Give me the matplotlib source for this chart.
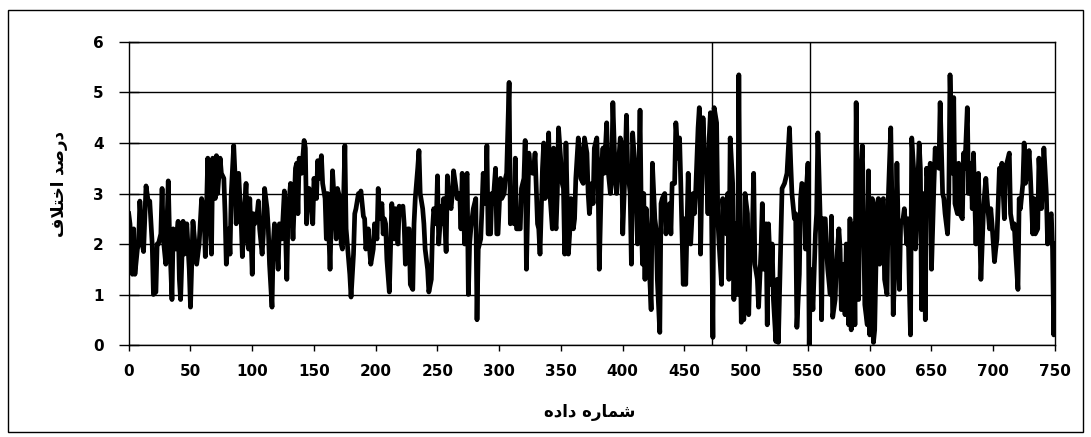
import matplotlib
matplotlib.use("Agg")
import matplotlib.pyplot as plt
from matplotlib.patches import Rectangle

# Difference percentage per data number, in blocks of the x range
x_000 = [0, 1, 3, 4, 5, 7, 8, 9, 11, 12, 14, 16, 17, 19, 20, 22, 23, 24, 26, 27, 28, 30, 32, 33, 35,
         36, 38, 40, 41, 42, 44, 45, 47, 49, 50, 52, 54, 55, 57, 59, 61, 62, 64]
y_000 = [2.6, 2.4, 1.4, 2.3, 1.4, 1.9, 2.0, 2.85, 2.0, 1.85, 3.15, 2.8, 2.85, 2.0, 1.0, 1.05, 2.0, 2.0, 2.2, 3.1,
         2.1, 1.6, 3.25, 2.2, 0.9, 2.3, 1.9, 2.45, 1.3, 0.9, 2.45, 1.8, 2.4, 1.5, 0.75, 2.45, 1.9, 1.6, 2.0, 2.9,
         2.6, 1.75, 3.7]

x_065 = [66, 67, 68, 70, 71, 72, 74, 75, 77, 78, 79, 81, 82, 83, 85, 86, 87, 89, 90, 91, 92, 94, 95, 96, 97,
         98, 100, 101, 102, 104, 105, 106, 108, 109, 110, 112, 113, 114, 116, 117, 118, 120, 121, 122, 124,
         126, 128, 129, 131, 132, 133, 135]
y_065 = [2.3, 1.8, 3.7, 2.9, 3.75, 3.0, 3.7, 3.4, 3.3, 2.6, 1.6, 2.3, 1.8, 3.0, 3.95, 3.4, 2.4, 3.4, 2.9, 2.5,
         1.75, 2.8, 3.2, 2.1, 1.9, 2.9, 1.4, 2.6, 2.4, 2.6, 2.85, 2.3, 1.8, 2.2, 3.1, 2.7, 2.3, 1.6, 0.75, 2.0,
         2.4, 1.9, 1.5, 2.4, 2.1, 3.05, 1.3, 2.6, 3.2, 2.7, 2.1, 3.5]

x_136 = [136, 137, 138, 140, 142, 143, 144, 146, 148, 149, 150, 152, 153, 154, 156, 157, 159, 160, 161, 163,
         164, 165, 167, 168, 169, 171, 172, 173, 175, 176, 177, 179, 180, 182, 183, 184, 186, 187, 188, 190,
         191, 192, 194, 195, 196, 198, 199, 201, 202, 203, 205]
y_136 = [3.6, 2.6, 3.7, 3.4, 4.05, 3.9, 2.4, 3.1, 2.9, 2.4, 3.3, 2.9, 3.65, 3.3, 3.75, 3.2, 2.9, 2.1, 3.0, 1.5,
         2.5, 3.45, 2.6, 2.1, 3.1, 2.9, 2.0, 1.9, 3.95, 2.3, 2.0, 1.4, 0.95, 1.8, 2.6, 2.7, 3.0, 2.95, 3.05, 2.55,
         2.5, 1.9, 2.3, 1.9, 1.6, 1.9, 2.4, 2.1, 3.1, 2.5, 2.8]

x_206 = [206, 207, 208, 209, 211, 212, 213, 215, 216, 218, 219, 220, 222, 223, 224, 226, 227, 228, 230, 231,
         232, 234, 235, 236, 238, 239, 240, 242, 243, 245, 246, 247, 249, 250, 251, 253, 254, 255, 257, 258,
         259, 261, 262, 263, 265, 266, 268, 269, 270, 272, 273]
y_206 = [2.2, 2.5, 2.4, 1.7, 1.05, 1.9, 2.8, 2.1, 2.7, 2.0, 2.75, 2.7, 2.75, 2.4, 1.6, 2.3, 2.3, 1.2, 1.1, 2.4,
         2.9, 3.5, 3.85, 3.0, 2.7, 2.4, 1.9, 1.5, 1.05, 1.3, 2.3, 2.7, 2.4, 3.35, 2.0, 2.75, 2.4, 2.9, 1.85, 3.35,
         2.9, 2.7, 3.0, 3.45, 3.1, 2.9, 3.0, 2.3, 3.4, 2.0, 3.3]

x_274 = [274, 275, 276, 277, 279, 281, 282, 283, 285, 286, 287, 289, 290, 291, 293, 294, 295, 297, 298, 299,
         301, 302, 304, 305, 306, 308, 309, 310, 312, 313, 314, 316, 317, 318, 320, 321, 322, 324, 325, 327,
         328, 329, 331, 332, 333, 335, 336, 337, 339, 340, 341, 343]
y_274 = [3.4, 1.0, 2.0, 2.3, 2.7, 2.9, 0.5, 1.9, 2.1, 2.7, 3.4, 2.8, 3.95, 2.2, 2.2, 3.0, 2.8, 3.5, 2.2, 2.2,
         3.3, 2.9, 3.0, 3.3, 3.4, 5.2, 2.4, 2.5, 2.4, 3.7, 2.3, 2.3, 2.3, 3.1, 3.3, 4.05, 1.5, 3.8, 3.5, 3.4,
         3.5, 3.8, 2.4, 2.3, 1.8, 3.5, 4.0, 2.9, 3.0, 4.2, 3.0, 2.3]

x_344 = [344, 345, 346, 347, 348, 350, 351, 352, 353, 354, 356, 357, 358, 360, 361, 362, 364, 365, 366, 368,
         369, 371, 372, 373, 375, 376, 377, 379, 380, 381, 383, 384, 385, 387, 388, 390, 391, 392, 394, 395,
         396, 398, 399, 400, 402, 403, 404, 406, 407, 408, 410, 411, 412, 414]
y_344 = [3.9, 2.5, 2.3, 3.0, 4.3, 3.6, 3.2, 3.1, 1.8, 4.0, 1.8, 2.2, 2.9, 2.3, 2.5, 3.3, 4.1, 3.9, 3.3, 3.2,
         4.1, 3.8, 3.0, 2.6, 3.2, 2.8, 3.9, 4.1, 3.3, 1.5, 3.6, 3.9, 3.4, 4.4, 3.5, 3.0, 3.3, 4.8, 3.3, 3.0,
         3.4, 4.1, 4.0, 2.2, 3.6, 4.55, 3.5, 3.0, 1.6, 4.2, 3.5, 2.8, 2.0, 4.65]

x_415 = [415, 416, 417, 418, 419, 420, 421, 423, 424, 426, 427, 428, 430, 431, 432, 434, 435, 436, 438, 439,
         440, 442, 443, 445, 446, 447, 449, 450, 451, 453, 454, 455, 457, 458, 459, 461, 462, 463, 465, 466,
         468, 469, 470, 471, 473, 474, 476, 477, 478, 480, 481, 482, 484]
y_415 = [2.6, 1.6, 3.0, 1.3, 2.7, 2.3, 1.8, 0.7, 3.6, 2.5, 2.3, 1.3, 0.25, 2.8, 2.9, 3.0, 2.2, 2.6, 2.8, 2.2,
         3.2, 3.2, 4.4, 3.7, 4.1, 3.2, 1.2, 2.5, 1.2, 3.4, 2.5, 2.0, 3.0, 2.6, 3.0, 4.3, 4.7, 1.8, 4.5, 3.9,
         3.4, 2.6, 4.1, 4.6, 0.15, 4.7, 4.4, 2.5, 2.0, 1.2, 2.9, 2.5, 2.2]

x_485 = [485, 486, 487, 489, 490, 491, 493, 494, 495, 496, 497, 498, 499, 501, 502, 503, 505, 506, 507, 509,
         510, 512, 513, 514, 516, 517, 518, 520, 521, 522, 524, 525, 526, 528, 529, 531, 532, 533, 535, 536,
         537, 539, 540, 541, 543, 544, 545, 547, 548, 549, 550, 551, 552, 553]
y_485 = [3.0, 1.3, 4.1, 3.2, 0.9, 2.4, 1.0, 5.35, 2.0, 0.45, 1.9, 0.5, 3.0, 2.6, 0.6, 1.6, 2.3, 3.4, 1.6, 1.3,
         0.75, 1.9, 2.8, 1.5, 2.4, 0.4, 2.4, 1.2, 2.0, 0.9, 0.07, 1.3, 0.05, 2.1, 3.1, 3.2, 3.3, 3.4, 4.3, 3.6,
         3.0, 2.5, 2.6, 0.35, 1.4, 2.9, 3.2, 3.15, 1.9, 3.2, 3.6, 0.0, 1.5, 1.2]

x_554 = [554, 556, 557, 558, 560, 561, 562, 564, 565, 566, 568, 569, 570, 572, 573, 575, 576, 577, 579, 580,
         581, 583, 584, 585, 587, 588, 589, 591, 592, 594, 595, 596, 598, 599, 600, 602, 603, 604, 606, 607,
         608, 610, 611, 612, 614, 615, 617, 618, 619, 621, 622]
y_554 = [0.7, 2.2, 2.6, 4.2, 2.4, 0.5, 2.5, 2.5, 1.9, 1.5, 1.0, 2.55, 0.55, 0.9, 1.6, 2.3, 1.9, 0.7, 1.6, 0.6,
         2.0, 0.4, 2.5, 0.3, 2.4, 0.4, 4.8, 0.9, 3.0, 3.95, 2.5, 0.8, 0.4, 3.45, 0.2, 2.9, 0.05, 0.3, 2.8, 2.9,
         1.6, 2.85, 2.9, 1.3, 1.0, 2.9, 4.3, 2.8, 0.6, 2.0, 3.6]

x_624 = [624, 625, 627, 628, 630, 631, 632, 633, 634, 636, 637, 638, 640, 641, 642, 644, 645, 646, 648, 649,
         650, 652, 653, 654, 656, 657, 659, 660, 661, 663, 664, 665, 667, 668, 669, 671, 672, 673, 675, 676,
         677, 679, 680, 682, 683, 684, 686, 687, 688, 689, 690, 692]
y_624 = [1.1, 2.4, 2.5, 2.7, 2.0, 2.5, 1.2, 0.2, 4.1, 3.3, 1.9, 2.5, 4.0, 3.5, 0.7, 3.0, 0.5, 3.5, 3.0, 3.6,
         1.5, 3.2, 3.9, 3.6, 3.5, 4.8, 3.0, 2.9, 2.6, 2.2, 2.9, 5.35, 3.4, 4.9, 2.8, 2.6, 3.6, 2.6, 2.5, 3.8,
         3.5, 4.7, 3.0, 3.6, 2.7, 3.8, 2.0, 3.0, 3.4, 2.4, 1.3, 2.6]

x_693 = [693, 694, 695, 697, 698, 699, 701, 702, 703, 705, 706, 707, 709, 710, 712, 713, 714, 716, 717, 718,
         720, 721, 722, 724, 725, 726, 728, 729, 730, 732, 733, 734, 736, 737, 739, 740, 741, 743, 744, 745,
         747, 748, 749, 750]
y_693 = [3.0, 3.3, 2.9, 2.3, 2.7, 2.4, 1.65, 1.9, 2.1, 3.5, 3.0, 3.6, 2.5, 3.5, 3.7, 3.8, 2.6, 2.3, 2.4, 1.9,
         1.1, 2.9, 2.7, 3.2, 4.0, 3.2, 3.5, 3.85, 3.4, 2.2, 2.9, 2.2, 2.3, 3.7, 2.7, 3.2, 3.9, 3.0, 2.0, 2.5,
         2.6, 1.9, 0.2, 2.0]

sample_no = (x_000 + x_065 + x_136 + x_206 + x_274 + x_344 + x_415 + x_485
             + x_554 + x_624 + x_693)
diff_pct = (y_000 + y_065 + y_136 + y_206 + y_274 + y_344 + y_415 + y_485
            + y_554 + y_624 + y_693)

marker_samples = [472, 552]
x_ticks = list(range(0, 751, 50))
y_ticks = [0, 1, 2, 3, 4, 5, 6]

# Persian labels in visual (shaped, right-to-left) order
x_label = "\ufee9\ufea9\ufe8d\ufea9 \ufee9\ufead\ufe8e\ufee4\ufeb7"      # شماره داده
y_label = "\ufed1\ufefc\ufe98\ufea7\ufe8d \ufeaa\ufebb\ufead\ufea9"      # درصد اختلاف

plt.rcParams["font.family"] = ["DejaVu Sans"]

fig = plt.figure(figsize=(10.91, 4.37), dpi=100)
fig.patch.set_facecolor("white")
fig.add_artist(Rectangle((0.0075, 0.012), 0.985, 0.965, transform=fig.transFigure,
                         fill=False, edgecolor="black", linewidth=1.0))

ax = fig.add_axes([0.118, 0.2105, 0.849, 0.6934])
ax.plot(sample_no, diff_pct, color="black", linewidth=3.4, solid_joinstyle="round", zorder=3)
for m in marker_samples:
    ax.axvline(m, color="black", linewidth=1.0, zorder=2)

ax.set_xlim(0, 750)
ax.set_ylim(0, 6)
ax.set_xticks(x_ticks)
ax.set_yticks(y_ticks)
ax.grid(axis="y", color="black", linewidth=1.0, zorder=1)
ax.set_axisbelow(True)
for s in ax.spines.values():
    s.set_color("black")
    s.set_linewidth(1.0)

ax.tick_params(axis="x", direction="out", length=4.5, width=1.0, pad=9, labelsize=11)
ax.tick_params(axis="y", direction="inout", length=14, width=1.0, pad=11, labelsize=11)
for lab in ax.get_xticklabels() + ax.get_yticklabels():
    lab.set_fontweight("bold")

ax.set_xlabel(x_label, fontsize=12, fontweight="bold")
ax.set_ylabel(y_label, fontsize=12, fontweight="bold")
ax.xaxis.set_label_coords(0.498, -0.19)
ax.yaxis.set_label_coords(-0.066, 0.53)

fig.savefig("out.png", dpi=100, facecolor="white")
